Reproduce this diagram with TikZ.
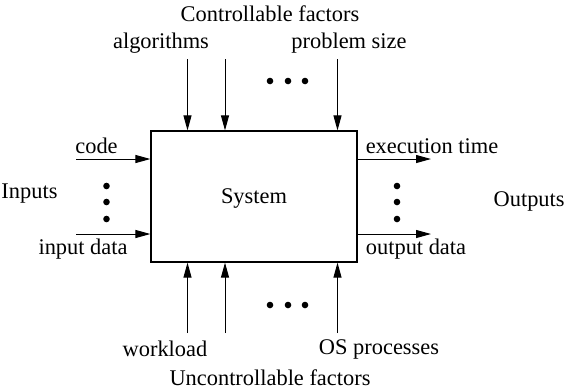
\documentclass[tikz,border=0pt]{standalone}
\usepackage{fontspec}
\setmainfont{Liberation Serif}
\usetikzlibrary{arrows.meta,positioning}

\begin{document}
\begin{tikzpicture}[x=0.5pt,y=-0.5pt,
    font=\fontsize{11.2}{13}\selectfont,
    flow/.style={-{Triangle[length=7.5pt,width=4pt]},line width=0.5pt},
    dot/.style={circle,fill,inner sep=0pt,minimum size=3.3pt}
    ]
    \useasboundingbox (0,0) rectangle (566,388);
    \node[draw,line width=0.6pt,minimum width=103pt,minimum height=65.5pt,text depth=0pt] (sys) at (254,196.5) {System};
    % top
    \node (ctrl)  at (270,14) {Controllable factors};
    \node (algo)  at (161,43) {algorithms};
    \node (psize) at (349,43) {problem size};
    \foreach \x/\n in {187.5/c1,225/c2,337.5/c3}{
        \coordinate (\n) at (\x,59);
        \draw[flow] (\n) -- (\n |- sys.north);
    }
    \foreach \x [count=\i] in {270,288,305}
        \node[dot] (td\i) at (\x,81) {};
    % bottom
    \node (wload) at (165,349) {workload};
    \node (osp)   at (379,349) {OS processes};
    \node (unctrl) at (270,378) {Uncontrollable factors};
    \foreach \x/\n in {187.5/u1,225/u2,337.5/u3}{
        \coordinate (\n) at (\x,333);
        \draw[flow] (\n) -- (\n |- sys.south);
    }
    \foreach \x [count=\i] in {270,288,305}
        \node[dot] (bd\i) at (\x,305) {};
    % left
    \node (inp)   at (29.5,194) {Inputs};
    \node (code)  at (96.5,146) {code};
    \node (idata) at (83,249) {input data};
    \coordinate (in1) at (76,159);
    \coordinate (in2) at (76,234);
    \draw[flow] (in1) -- (in1 -| sys.west);
    \draw[flow] (in2) -- (in2 -| sys.west);
    \foreach \y [count=\i] in {186,202,219}
        \node[dot] (ld\i) at (106.5,\y) {};
    % right
    \node[anchor=east,inner xsep=0pt] (outp) at (565,201) {Outputs};
    \node (etime) at (432,146) {execution time};
    \node (odata) at (416,249) {output data};
    \coordinate (out1) at (431,159);
    \coordinate (out2) at (431,234);
    \draw[flow] (sys.east |- out1) -- (out1);
    \draw[flow] (sys.east |- out2) -- (out2);
    \foreach \y [count=\i] in {186,202,219}
        \node[dot] (rd\i) at (397,\y) {};
\end{tikzpicture}
\end{document}
